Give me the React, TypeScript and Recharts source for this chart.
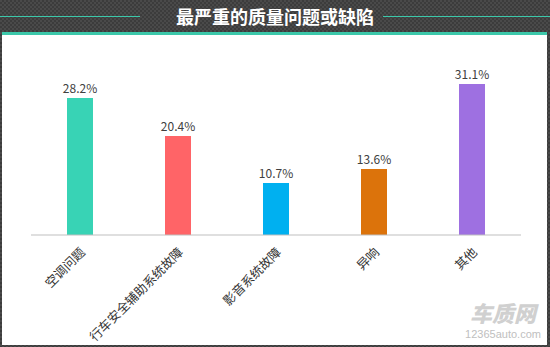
import React from "react";
import { BarChart, Bar, XAxis, YAxis, Cell, LabelList } from "recharts";

const categories = ["空调问题", "行车安全辅助系统故障", "影音系统故障", "异响", "其他"];
const values = [28.2, 20.4, 10.7, 13.6, 31.1];
const colors = ["#38d3b5", "#ff6467", "#00b0f0", "#dc730b", "#9e70e1"];
const title = "最严重的质量问题或缺陷";

const data = categories.map((name, i) => ({ name, value: values[i] }));

const FONT = '"Noto Sans CJK SC", "Microsoft YaHei", sans-serif';

const Tick = (props: any) => {
  const { x, y, payload } = props;
  const ax = x + 6;
  const ay = y + 10;
  return (
    <text
      x={ax}
      y={ay}
      textAnchor="end"
      fontSize={12.6}
      fontFamily={FONT}
      fill="#333"
      transform={`rotate(-45, ${ax}, ${ay})`}
    >
      {payload.value}
    </text>
  );
};

const checker =
  "repeating-conic-gradient(#3c3c3c 0% 25%, #4a4a4a 0% 50%) 0 0 / 4px 4px";

export default function App() {
  return (
    <div
      style={{
        position: "absolute",
        left: 0,
        top: 0,
        width: 550,
        height: 347,
        background: checker,
        overflow: "hidden",
      }}
    >
      {/* white content area */}
      <div
        style={{
          position: "absolute",
          left: 2,
          top: 32,
          width: 545,
          height: 313,
          background: "#ffffff",
          borderTop: "3px solid #3cc8aa",
          boxSizing: "border-box",
        }}
      />
      {/* thin header lines */}
      <div style={{ position: "absolute", left: 0, top: 16, width: 140, height: 1, background: "#3cc8aa" }} />
      <div style={{ position: "absolute", left: 383, top: 16, width: 167, height: 1, background: "#3cc8aa" }} />
      {/* title */}
      <div
        style={{
          position: "absolute",
          left: 0,
          top: 3,
          width: 550,
          textAlign: "center",
          color: "#ffffff",
          fontFamily: FONT,
          fontWeight: 700,
          fontSize: 18,
          lineHeight: "26px",
        }}
      >
        {title}
      </div>
      <div style={{ position: "absolute", left: 0, top: 0 }}>
        <BarChart
          width={550}
          height={347}
          data={data}
          margin={{ top: 65, right: 29, bottom: 0, left: 31 }}
        >
          <XAxis
            dataKey="name"
            axisLine={{ stroke: "#bfbfbf" }}
            tickLine={false}
            interval={0}
            tick={<Tick />}
            height={112}
          />
          <YAxis hide domain={[0, 35]} width={0} />
          <Bar dataKey="value" barSize={26} isAnimationActive={false}>
            {data.map((d, i) => (
              <Cell key={d.name} fill={colors[i]} />
            ))}
            <LabelList
              dataKey="value"
              position="top"
              offset={5}
              formatter={(v: any) => `${v}%`}
              style={{ fontSize: 12, fontFamily: FONT, fill: "#404040" }}
            />
          </Bar>
        </BarChart>
      </div>
      {/* watermark */}
      <div
        style={{
          position: "absolute",
          left: 460,
          top: 300,
          width: 86,
          textAlign: "center",
          color: "#d0d0d0",
          fontFamily: FONT,
          fontWeight: 900,
          fontSize: 22,
          lineHeight: "24px",
          fontStyle: "italic",
        }}
      >
        车质网
      </div>
      <div
        style={{
          position: "absolute",
          left: 460,
          top: 328,
          width: 86,
          textAlign: "center",
          color: "#c0c0c0",
          fontFamily: "Arial, 'Liberation Sans', sans-serif",
          fontSize: 11,
          lineHeight: "12px",
        }}
      >
        12365auto.com
      </div>
    </div>
  );
}
